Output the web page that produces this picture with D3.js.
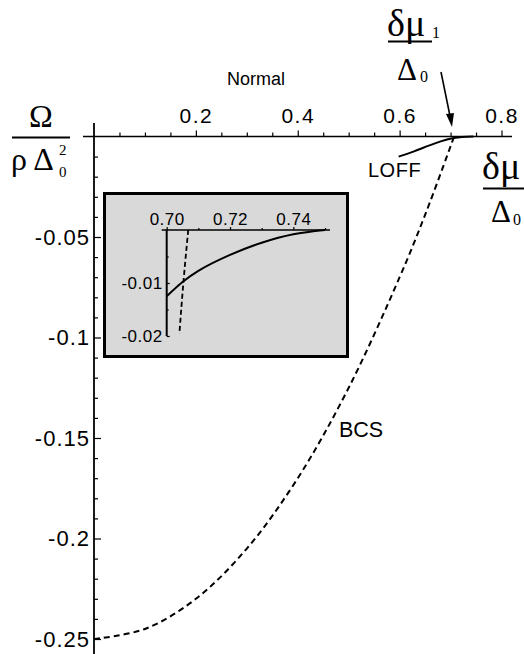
<!DOCTYPE html>
<html>
<head>
<meta charset="utf-8">
<script src="https://cdn.jsdelivr.net/npm/d3@7"></script>
<style>
  body { margin: 0; background: #fff; }
  text { font-family: "Liberation Sans", Arial, sans-serif; fill: #000; }
  .serif { font-family: "Liberation Serif", "Times New Roman", serif; }
</style>
</head>
<body>
<script>
// main plot data
const bcsX = [0, 0.1, 0.2, 0.3, 0.4, 0.5, 0.6, 0.65, 0.707];
const bcsY = [-0.25, -0.245, -0.23, -0.205, -0.17, -0.125, -0.07, -0.039, 0];
const loffX = [0.598, 0.627, 0.66, 0.693, 0.722, 0.745];
const loffY = [-0.0100, -0.0075, -0.0043, -0.0015, -0.0003, 0];

// inset data
const insetLoffX = [0.700, 0.705, 0.710, 0.720, 0.730, 0.740, 0.750];
const insetLoffY = [-0.0125, -0.0098, -0.0077, -0.0047, -0.0024, -0.0008, 0];
const insetBcsX = [0.7068, 0.7053, 0.704];
const insetBcsY = [0, -0.0097, -0.0196];

// ticks
const xMajor = [0.2, 0.4, 0.6, 0.8];
const xMajorLabels = ["0.2", "0.4", "0.6", "0.8"];
const xMinor = [0.05, 0.1, 0.15, 0.25, 0.3, 0.35, 0.45, 0.5, 0.55, 0.65, 0.7, 0.75];
const yMajor = [-0.05, -0.1, -0.15, -0.2, -0.25];
const yMajorLabels = ["-0.05", "-0.1", "-0.15", "-0.2", "-0.25"];
const yMinor = d3.range(1, 26).map(i => -i / 100).filter(v => Math.round(v * 100) % 5 != 0);

const insetXMajor = [0.70, 0.72, 0.74];
const insetXLabels = ["0.70", "0.72", "0.74"];
const insetXMinor = [0.71, 0.73, 0.75];
const insetYMajor = [-0.01, -0.02];
const insetYLabels = ["-0.01", "-0.02"];
const insetYMinor = [-0.005, -0.015];

const width = 524, height = 654;

const svg = d3.select("body").append("svg")
    .attr("width", width).attr("height", height);

let x = d3.scaleLinear().domain([0, 0.8]).range([94, 501.5]);
let y = d3.scaleLinear().domain([0, -0.25]).range([136.5, 639]);

// axes lines
svg.append("line").attr("x1", 83).attr("x2", 512).attr("y1", y(0)).attr("y2", y(0))
    .attr("stroke", "#000").attr("stroke-width", 1.6);
svg.append("line").attr("x1", x(0)).attr("x2", x(0)).attr("y1", 123).attr("y2", 654)
    .attr("stroke", "#000").attr("stroke-width", 1.8);

function styleAxis(g) {
    g.select(".domain").remove();
    g.selectAll("line").attr("stroke", "#000").attr("stroke-width", 1.2);
}

svg.append("g").attr("transform", `translate(0,${y(0)})`)
    .call(d3.axisTop(x).tickValues(xMajor).tickSize(6).tickPadding(8)
        .tickFormat((d, i) => xMajorLabels[i]))
    .call(styleAxis)
    .call(g => g.selectAll("text").attr("font-size", 21).attr("letter-spacing", 1.5)
        .attr("font-family", "Liberation Sans"));
svg.append("g").attr("transform", `translate(0,${y(0)})`)
    .call(d3.axisTop(x).tickValues(xMinor).tickSize(4).tickFormat(""))
    .call(styleAxis);

svg.append("g").attr("transform", `translate(${x(0)},0)`)
    .call(d3.axisLeft(y).tickValues(yMajor).tickSize(-7).tickPadding(4)
        .tickFormat((d, i) => yMajorLabels[i]))
    .call(styleAxis)
    .call(g => g.selectAll("text").attr("font-size", 22).attr("letter-spacing", 1)
        .attr("font-family", "Liberation Sans"));
svg.append("g").attr("transform", `translate(${x(0)},0)`)
    .call(d3.axisLeft(y).tickValues(yMinor).tickSize(-4).tickFormat(""))
    .call(styleAxis);

// curves
let line = d3.line().x(d => x(d[0])).y(d => y(d[1])).curve(d3.curveCatmullRom);
svg.append("path")
    .attr("d", line(d3.zip(bcsX, bcsY)))
    .attr("fill", "none").attr("stroke", "#000").attr("stroke-width", 2)
    .attr("stroke-dasharray", "6,4");
svg.append("path")
    .attr("d", line(d3.zip(loffX, loffY)))
    .attr("fill", "none").attr("stroke", "#000").attr("stroke-width", 2);

// curve labels
svg.append("text").attr("x", 368).attr("y", 177).attr("font-size", 20)
    .attr("letter-spacing", 0.5).text("LOFF");
svg.append("text").attr("x", 339).attr("y", 437).attr("font-size", 21.5).text("BCS");
svg.append("text").attr("x", 227).attr("y", 85).attr("font-size", 18).text("Normal");

// axis titles
let yt = svg.append("g");
yt.append("text").attr("class", "serif").attr("x", 41).attr("y", 127)
    .attr("text-anchor", "middle").attr("font-size", 32).text("Ω");
yt.append("line").attr("x1", 12).attr("x2", 70).attr("y1", 137.5).attr("y2", 137.5)
    .attr("stroke", "#000").attr("stroke-width", 2);
yt.append("text").attr("class", "serif").attr("x", 11).attr("y", 170)
    .attr("font-size", 32).text("ρ Δ");
yt.append("text").attr("class", "serif").attr("x", 59).attr("y", 155)
    .attr("font-size", 15).text("2");
yt.append("text").attr("class", "serif").attr("x", 59).attr("y", 177)
    .attr("font-size", 15).text("0");

// right axis title
svg.append("text").attr("class", "serif").attr("x", 482).attr("y", 179)
    .attr("font-size", 38).text("δμ");
svg.append("line").attr("x1", 483).attr("x2", 524).attr("y1", 188.5).attr("y2", 188.5)
    .attr("stroke", "#000").attr("stroke-width", 2);
svg.append("text").attr("class", "serif").attr("x", 491).attr("y", 222)
    .attr("font-size", 31).text("Δ");
svg.append("text").attr("class", "serif").attr("x", 513).attr("y", 225)
    .attr("font-size", 16).text("0");

// δμ1 / Δ0 annotation
svg.append("text").attr("class", "serif").attr("x", 387).attr("y", 36)
    .attr("font-size", 38).text("δμ");
svg.append("text").attr("class", "serif").attr("x", 432).attr("y", 38)
    .attr("font-size", 16).text("1");
svg.append("line").attr("x1", 388).attr("x2", 432).attr("y1", 41.5).attr("y2", 41.5)
    .attr("stroke", "#000").attr("stroke-width", 2);
svg.append("text").attr("class", "serif").attr("x", 397).attr("y", 80)
    .attr("font-size", 31).text("Δ");
svg.append("text").attr("class", "serif").attr("x", 420).attr("y", 82)
    .attr("font-size", 16).text("0");

// arrow
svg.append("line").attr("x1", 441).attr("y1", 72).attr("x2", 450).attr("y2", 116)
    .attr("stroke", "#000").attr("stroke-width", 1.6);
svg.append("path").attr("d", "M452,127 L446,114 L454,113 Z").attr("fill", "#000");

// inset
let inset = svg.append("g");
inset.append("rect").attr("x", 104.5).attr("y", 193.5).attr("width", 243).attr("height", 163)
    .attr("fill", "#d9d9d9").attr("stroke", "#000").attr("stroke-width", 3);

let ix = d3.scaleLinear().domain([0.70, 0.75]).range([166.7, 325]);
let iy = d3.scaleLinear().domain([0, -0.02]).range([230, 336]);

inset.append("line").attr("x1", 161.7).attr("x2", 330).attr("y1", iy(0)).attr("y2", iy(0))
    .attr("stroke", "#000").attr("stroke-width", 1.4);
inset.append("line").attr("x1", ix(0.70)).attr("x2", ix(0.70)).attr("y1", iy(0)).attr("y2", iy(-0.02))
    .attr("stroke", "#000").attr("stroke-width", 2);

inset.append("g").attr("transform", `translate(0,${iy(0)})`)
    .call(d3.axisTop(ix).tickValues(insetXMajor).tickSize(3).tickPadding(2)
        .tickFormat((d, i) => insetXLabels[i]))
    .call(styleAxis)
    .call(g => g.selectAll("text").attr("font-size", 17).attr("letter-spacing", 0.5)
        .attr("font-family", "Liberation Sans"));
inset.append("g").attr("transform", `translate(0,${iy(0)})`)
    .call(d3.axisTop(ix).tickValues(insetXMinor).tickSize(2).tickFormat(""))
    .call(styleAxis);
inset.append("g").attr("transform", `translate(${ix(0.70)},0)`)
    .call(d3.axisLeft(iy).tickValues(insetYMajor).tickSize(-3).tickPadding(4)
        .tickFormat((d, i) => insetYLabels[i]))
    .call(styleAxis)
    .call(g => g.selectAll("text").attr("font-size", 17).attr("letter-spacing", 0.5)
        .attr("font-family", "Liberation Sans"));
inset.append("g").attr("transform", `translate(${ix(0.70)},0)`)
    .call(d3.axisLeft(iy).tickValues(insetYMinor).tickSize(-2).tickFormat(""))
    .call(styleAxis);

let iline = d3.line().x(d => ix(d[0])).y(d => iy(d[1])).curve(d3.curveCatmullRom);
inset.append("path")
    .attr("d", iline(d3.zip(insetLoffX, insetLoffY)))
    .attr("fill", "none").attr("stroke", "#000").attr("stroke-width", 2);
inset.append("path")
    .attr("d", iline(d3.zip(insetBcsX, insetBcsY)))
    .attr("fill", "none").attr("stroke", "#000").attr("stroke-width", 1.8)
    .attr("stroke-dasharray", "5,3");
</script>
</body>
</html>
